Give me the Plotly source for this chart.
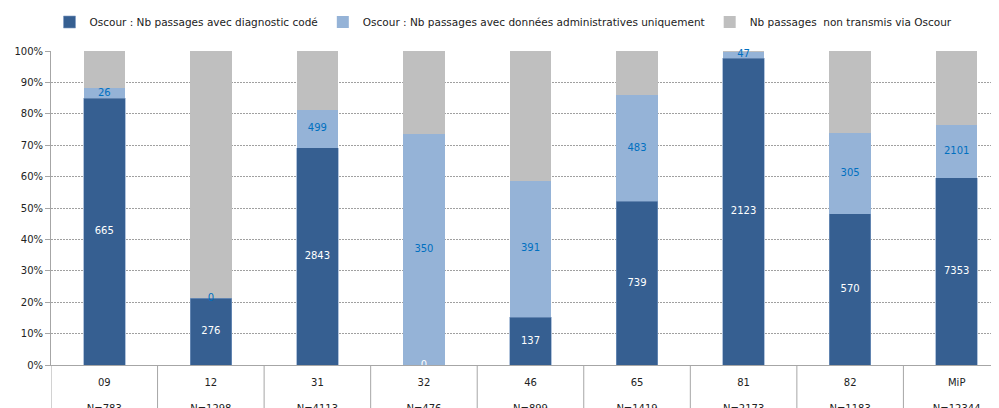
import plotly.graph_objects as go

# Departements / total and counts
categories = ['09', '12', '31', '32', '46', '65', '81', '82', 'MiP']
totals = [783, 1298, 4113, 476, 899, 1419, 2173, 1183, 12344]
diag_code = [665, 276, 2843, 0, 137, 739, 2123, 570, 7353]
admin_only = [26, 0, 499, 350, 391, 483, 47, 305, 2101]

# remaining passages not sent through Oscour
non_transmis = [t - d - a for t, d, a in zip(totals, diag_code, admin_only)]

pct_diag = [d / t * 100 for d, t in zip(diag_code, totals)]
pct_admin = [a / t * 100 for a, t in zip(admin_only, totals)]
pct_non = [n / t * 100 for n, t in zip(non_transmis, totals)]

tick_text = [f'{c}<br><br>N={t}' for c, t in zip(categories, totals)]

dark = '#365F91'
light = '#95B3D7'
grey = '#BFBFBF'
font = 'DejaVu Sans'

fig = go.Figure()
fig.add_trace(go.Bar(x=categories, y=pct_diag, name='Oscour : Nb passages avec diagnostic codé',
                     marker=dict(color=dark, line=dict(width=0.6, color='#7F9CC4')), width=0.39))
fig.add_trace(go.Bar(x=categories, y=pct_admin, name='Oscour : Nb passages avec données administratives uniquement',
                     marker=dict(color=light, line=dict(width=0)), width=0.39))
fig.add_trace(go.Bar(x=categories, y=pct_non, name='Nb passages  non transmis via Oscour',
                     marker=dict(color=grey, line=dict(width=0)), width=0.39))

# value labels in the middle of each coloured segment
fig.add_trace(go.Scatter(x=categories, y=[p / 2 for p in pct_diag], mode='text',
                         text=[str(v) for v in diag_code], showlegend=False, cliponaxis=False,
                         textfont=dict(family=font, size=10, color='white'), hoverinfo='skip'))
fig.add_trace(go.Scatter(x=categories, y=[d + a / 2 for d, a in zip(pct_diag, pct_admin)], mode='text',
                         text=[str(v) for v in admin_only], showlegend=False, cliponaxis=False,
                         textfont=dict(family=font, size=10, color='#0070C0'), hoverinfo='skip'))

# divider lines of the category table under the axis
for i in range(len(categories) + 1):
    fig.add_shape(type='line', xref='x', yref='paper', x0=i - 0.5, x1=i - 0.5, y0=0, y1=-0.2,
                  line=dict(color='#A6A6A6', width=1))

# page body has an 8px margin, so the figure is a bit smaller than the window
fig.update_layout(
    barmode='stack',
    width=991, height=400,
    margin=dict(l=43, r=0, t=43, b=43),
    plot_bgcolor='white', paper_bgcolor='white',
    font=dict(family=font, size=10, color='#222222'),
    legend=dict(orientation='h', x=0.5, xanchor='center', xref='container',
                y=0.965, yanchor='middle', yref='container',
                font=dict(size=10.5), itemwidth=30, traceorder='normal'),
)
fig.update_xaxes(range=[-0.5, 8.397], tickvals=categories, ticktext=tick_text,
                 ticks='outside', ticklen=8, tickcolor='rgba(0,0,0,0)',
                 showline=True, linecolor='#A6A6A6', linewidth=1, showgrid=False, automargin=False)
fig.update_yaxes(range=[0, 100], dtick=10, ticksuffix='%', ticks='outside', ticklen=5,
                 tickcolor='#A6A6A6', showline=True, linecolor='#A6A6A6', linewidth=1,
                 showgrid=True, gridcolor='#A0A0A0', griddash='2px,1px', gridwidth=1,
                 zeroline=False, automargin=False)

fig.write_html('out.html')
